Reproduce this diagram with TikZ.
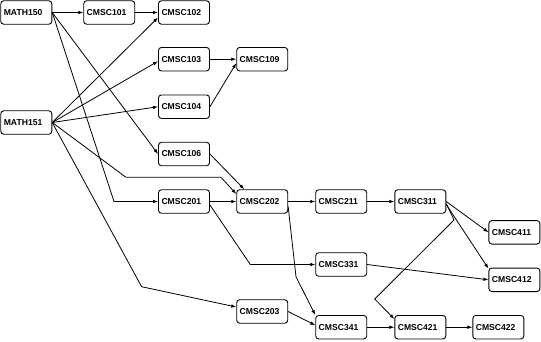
\documentclass[tikz,border=0pt]{standalone}
\usepackage{fontspec}
\setmainfont{Liberation Sans}
\usetikzlibrary{arrows.meta}
\begin{document}
\begin{tikzpicture}[x=1pt,y=-1pt,
  course/.style={draw, rounded corners=3pt, line width=0.9pt, minimum height=23.5pt,
    text width=45pt, inner xsep=3pt, inner ysep=0pt, align=left,
    font=\fontsize{8.6pt}{10pt}\selectfont\bfseries},
  link/.style={line width=0.8pt, -{Latex[length=5pt,width=3.6pt]}}]
\useasboundingbox (0,0) rectangle (541,341);
\node[course] (m150) at (26.3,12.5) {MATH150};
\node[course] (c101) at (109.2,12.5) {CMSC101};
\node[course] (c102) at (184,12.5) {CMSC102};
\node[course] (c103) at (184,59.2) {CMSC103};
\node[course] (c109) at (262.2,59.2) {CMSC109};
\node[course] (c104) at (184,106.7) {CMSC104};
\node[course] (m151) at (26.3,122.5) {MATH151};
\node[course] (c106) at (184,154) {CMSC106};
\node[course] (c201) at (184,201.5) {CMSC201};
\node[course] (c202) at (262.2,201.5) {CMSC202};
\node[course] (c211) at (341.2,201.5) {CMSC211};
\node[course] (c311) at (420.3,201.5) {CMSC311};
\node[course] (c411) at (514.4,232.3) {CMSC411};
\node[course] (c331) at (341.2,264.5) {CMSC331};
\node[course] (c412) at (514.4,279.8) {CMSC412};
\node[course] (c203) at (262.2,311.5) {CMSC203};
\node[course] (c341) at (341.2,327.2) {CMSC341};
\node[course] (c421) at (420.3,327.2) {CMSC421};
\node[course] (c422) at (498.3,327.2) {CMSC422};
\coordinate (b0) at (114,201.5);
\coordinate (b1) at (126,177.3);
\coordinate (b2) at (221,177.3);
\coordinate (b3) at (141.6,286.7);
\coordinate (b4) at (250.3,264.5);
\coordinate (b5) at (296,276.7);
\coordinate (b6) at (454,220);
\coordinate (b7) at (374.7,299);
\draw[link] (m150.east) -- (c101.west);
\draw[link] (c101.east) -- (c102.west);
\draw[link] (m150.east) -- (b0) -- (c201.west);
\draw[link] (m150.east) -- (c106.west);
\draw[link] (m151.east) -- ([yshift=-5pt]c102.west);
\draw[link] (m151.east) -- ([yshift=-2pt]c103.west);
\draw[link] (m151.east) -- (c104.west);
\draw[link] (m151.east) -- (b1) -- (b2) -- ([yshift=7.5pt]c202.west);
\draw[link] (m151.east) -- (b3) -- ([yshift=4.5pt]c203.west);
\draw[link] (c103.east) -- (c109.west);
\draw[link] (c104.east) -- ([yshift=-4pt]c109.west);
\draw[link] (c106.east) -- ([xshift=8pt]c202.north west);
\draw[link] (c201.east) -- (c202.west);
\draw[link] ([yshift=-3.5pt]c201.east) -- (b4) -- (c331.west);
\draw[link] (c202.east) -- (c211.west);
\draw[link] ([yshift=-5pt]c202.east) -- (b5) -- (c341.north west);
\draw[link] (c211.east) -- (c311.west);
\draw[link] (c203.east) -- ([yshift=2pt]c341.west);
\draw[link] (c331.east) -- (c412.west);
\draw[link] (c311.east) -- (c411.west);
\draw[link] ([yshift=-3pt]c311.east) -- ([yshift=-1pt]c412.north west);
\draw[link] ([yshift=-2pt]c311.east) -- (b6) -- (b7) -- ([yshift=-4pt]c421.north west);
\draw[link] (c341.east) -- (c421.west);
\draw[link] (c421.east) -- (c422.west);
\end{tikzpicture}
\end{document}
